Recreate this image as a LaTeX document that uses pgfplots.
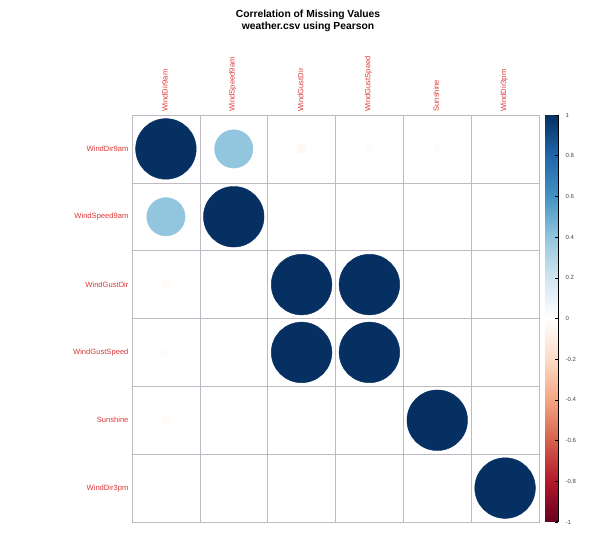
\documentclass[border=0pt]{standalone}
\usepackage{pgfplots}
\pgfplotsset{compat=1.18}
\usepackage{pgfplotstable}
\usepackage{fontspec}
\setmainfont{Liberation Sans}
\definecolor{lab}{RGB}{222,55,55}
\definecolor{gridc}{RGB}{190,186,196}
\definecolor{cbtext}{RGB}{70,70,70}

\pgfplotstableread{
x y r
1 1 1
2 1 0.4
3 1 -0.03
4 1 -0.02
5 1 -0.02
1 2 0.4
2 2 1
1 3 -0.02
3 3 1
4 3 1
1 4 -0.02
3 4 1
4 4 1
1 5 -0.02
5 5 1
6 6 1
}\corrtable

\begin{document}
\begin{tikzpicture}
\begin{axis}[
  name=ax, scale only axis, width=407pt, height=407pt,
  xmin=0.5, xmax=6.5, ymin=0.5, ymax=6.5, y dir=reverse,
  axis line style={gridc, line width=0.6pt},
  xtick={1,...,6}, ytick={1,...,6},
  xticklabels={WindDir9am,WindSpeed9am,WindGustDir,WindGustSpeed,Sunshine,WindDir3pm},
  yticklabels={WindDir9am,WindSpeed9am,WindGustDir,WindGustSpeed,Sunshine,WindDir3pm},
  xticklabel pos=upper,
  xticklabel style={rotate=90, anchor=west, font=\fontsize{7.6}{9}\selectfont, text=lab, xshift=0pt, yshift=1pt},
  yticklabel style={font=\fontsize{7.6}{9}\selectfont, text=lab},
  major tick length=0pt, minor tick length=0pt,
  minor xtick={1.5,2.5,3.5,4.5,5.5}, minor ytick={1.5,2.5,3.5,4.5,5.5},
  minor grid style={gridc, line width=0.6pt}, grid=minor,
  colormap={RdBu}{rgb255=(103,0,31) rgb255=(178,24,43) rgb255=(214,96,77) rgb255=(244,165,130) rgb255=(253,219,199) rgb255=(255,255,255) rgb255=(209,229,240) rgb255=(146,197,222) rgb255=(67,147,195) rgb255=(33,102,172) rgb255=(5,48,97)},
  point meta min=-1, point meta max=1,
  colorbar,
  colorbar style={
    width=13pt,
    at={(parent axis.north east)}, anchor=north west, xshift=-0.3cm+6pt,
    axis y line*=right, axis x line=none,
    ytick={-1,-0.8,-0.6,-0.4,-0.2,0,0.2,0.4,0.6,0.8,1},
    yticklabels={-1,-0.8,-0.6,-0.4,-0.2,0,0.2,0.4,0.6,0.8,1},
    yticklabel style={font=\fontsize{6}{7}\selectfont, text=cbtext, xshift=4pt},
    major tick length=3pt, ytick style={black, line width=0.5pt},
    axis line style={black, line width=0.6pt},
  },
]
\addplot[scatter, only marks, mark=*, point meta=\thisrow{r},
  scatter/use mapped color={draw=mapped color, fill=mapped color},
  visualization depends on={30.3*sqrt(abs(\thisrow{r})) \as \rad},
  scatter/@pre marker code/.append style={/tikz/mark size=\rad pt}]
  table[x=x, y=y]{\corrtable};
\end{axis}
\node[align=center, font=\bfseries\fontsize{10.3}{12}\selectfont] at ([xshift=-27.5pt,yshift=94pt]ax.north) {Correlation of Missing Values\\weather.csv using Pearson};
\path ([shift={(-132pt,-21pt)}]ax.south west) rectangle ([shift={(61pt,115pt)}]ax.north east);
\end{tikzpicture}
\end{document}
